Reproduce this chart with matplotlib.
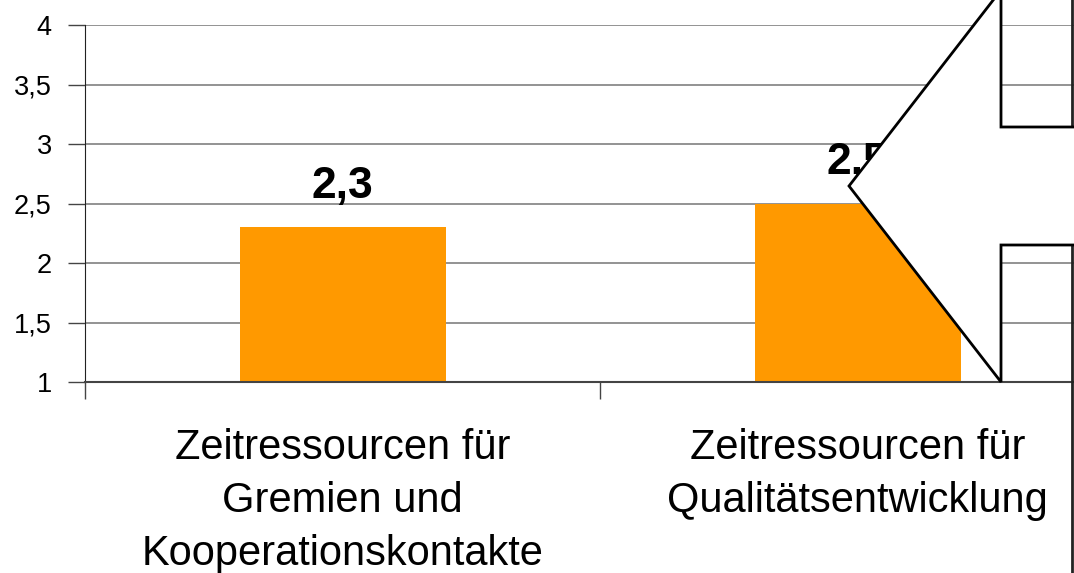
import matplotlib
matplotlib.use('Agg')
import matplotlib.pyplot as plt
from matplotlib.patches import Polygon
from matplotlib.lines import Line2D

categories = ['Zeitressourcen für\nGremien und\nKooperationskontakte',
              'Zeitressourcen für\nQualitätsentwicklung']
values = [2.3, 2.5]
yticks = [1, 1.5, 2, 2.5, 3, 3.5, 4]
ytick_labels = ['1', '1,5', '2', '2,5', '3', '3,5', '4']

plt.rcParams['font.family'] = ['Liberation Sans', 'DejaVu Sans']

W, H = 1074, 573
fig = plt.figure(figsize=(W / 100, H / 100), dpi=100)
# plot area runs past the right edge of the picture
ax = fig.add_axes([85 / W, 1 - 382 / H, 1030 / W, 357 / H])

x = [0.5, 1.5]
ax.bar(x, [v - 1 for v in values], bottom=1, width=0.4, color='#ff9900', zorder=2)
for xi, v in zip(x, values):
    ax.text(xi, v + 0.25, f'{v:.1f}'.replace('.', ','), ha='center', va='baseline',
            fontsize=32, fontweight='bold', zorder=3)

ax.set_xlim(0, 2)
ax.set_ylim(1, 4)
ax.set_yticks(yticks)
ax.set_yticklabels(ytick_labels, fontsize=19.5)
ax.set_xticks([0, 1, 2])
ax.set_xticklabels([])
ax.set_xticks(x, minor=True)
ax.set_xticklabels(categories, minor=True, fontsize=30, linespacing=1.43)
ax.tick_params(axis='x', which='minor', length=0, pad=33)
ax.tick_params(axis='x', which='major', length=12, width=1, color='#444444')
ax.tick_params(axis='y', length=12, width=1, color='#444444', pad=12)
ax.yaxis.grid(True, color='#808080', linewidth=1.2, zorder=0)
ax.set_axisbelow(True)
for s in ['top', 'right']:
    ax.spines[s].set_visible(False)
ax.spines['left'].set_color('#222222')
ax.spines['bottom'].set_color('#444444')
ax.spines['bottom'].set_linewidth(1.5)

# frame line on the right edge
fig.add_artist(Line2D([1072 / W, 1072 / W], [0, 1], color='#222222', lw=2,
                      transform=fig.transFigure, zorder=4))

# block arrow pointing left, drawn over the chart
pts = [(849, 186), (1001, -10), (1001, 127), (1090, 127), (1090, 245),
       (1001, 245), (1001, 382)]
arrow = Polygon([(px / W, 1 - py / H) for px, py in pts], closed=True,
                facecolor='white', edgecolor='black', lw=2,
                transform=fig.transFigure, zorder=5)
fig.add_artist(arrow)

fig.savefig('out.png', dpi=100)
